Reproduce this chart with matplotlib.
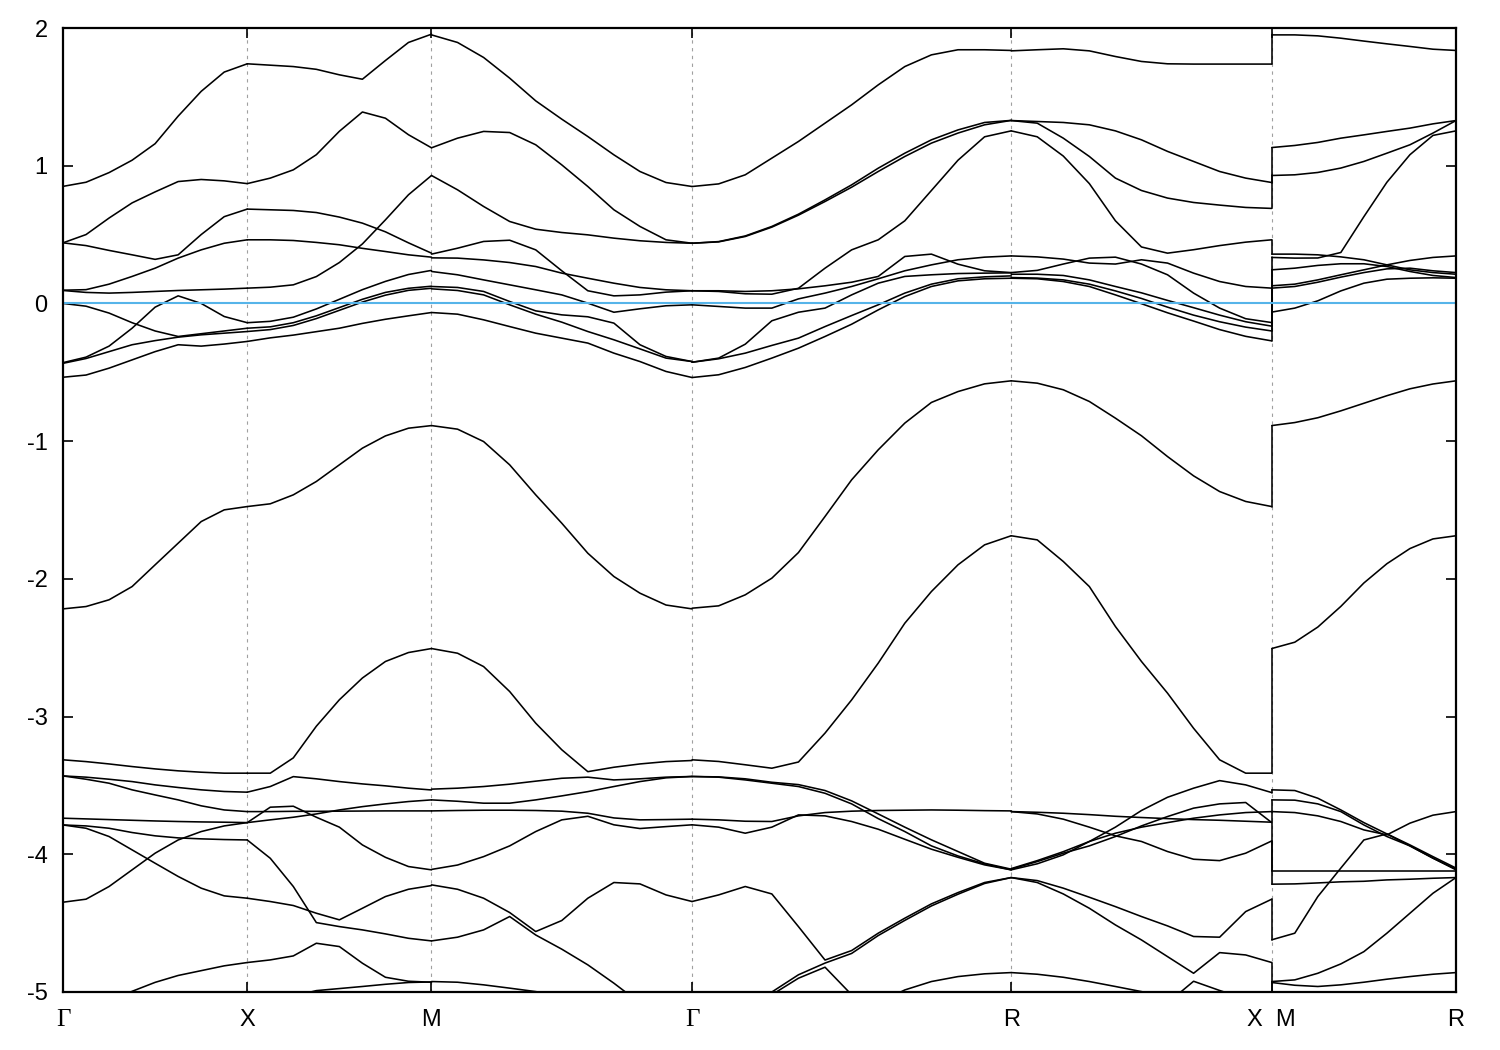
import numpy as np
import matplotlib
matplotlib.use("Agg")
import matplotlib.pyplot as plt

plt.rcParams['axes.unicode_minus'] = False

# ---------------- path / tick labels ----------------
tick_labels = ["Γ", "X", "M", "Γ", "R", "X  M", "R"]
seg_lengths = [0.5, 0.5, np.sqrt(0.5), np.sqrt(0.75), np.sqrt(0.5), 0.5]   # Γ-X, X-M, M-Γ, Γ-R, R-X, M-R (2π/a)
y_ticks = [-5, -4, -3, -2, -1, 0, 1, 2]

# ---------------- band energies (eV), sampled evenly along each segment ----------------
bands_GX = [
    [0.85, 0.88, 0.95, 1.04, 1.16, 1.36, 1.54, 1.68, 1.74],
    [0.44, 0.50, 0.62, 0.73, 0.81, 0.885, 0.90, 0.89, 0.87],
    [0.44, 0.42, 0.385, 0.353, 0.32, 0.353, 0.50, 0.63, 0.685],
    [0.096, 0.10, 0.14, 0.196, 0.256, 0.329, 0.389, 0.437, 0.462],
    [0.094, 0.08, 0.075, 0.08, 0.087, 0.094, 0.099, 0.104, 0.111],
    [0.0, -0.02, -0.07, -0.14, -0.20, -0.24, -0.22, -0.20, -0.18],
    [-0.43, -0.39, -0.31, -0.18, -0.027, 0.055, 0.0, -0.095, -0.14],
    [-0.435, -0.40, -0.35, -0.30, -0.27, -0.245, -0.228, -0.216, -0.204],
    [-0.536, -0.52, -0.47, -0.41, -0.35, -0.30, -0.31, -0.295, -0.276],
    [-2.218, -2.201, -2.152, -2.056, -1.898, -1.741, -1.584, -1.499, -1.475],
    [-3.314, -3.327, -3.344, -3.363, -3.38, -3.394, -3.404, -3.411, -3.411],
    [-3.431, -3.44, -3.455, -3.472, -3.496, -3.515, -3.532, -3.544, -3.549],
    [-3.431, -3.455, -3.484, -3.532, -3.569, -3.605, -3.648, -3.678, -3.69],
    [-3.738, -3.743, -3.748, -3.753, -3.758, -3.762, -3.765, -3.767, -3.77],
    [-3.787, -3.794, -3.811, -3.842, -3.866, -3.881, -3.888, -3.893, -3.896],
    [-3.787, -3.811, -3.871, -3.968, -4.065, -4.161, -4.246, -4.302, -4.319],
    [-4.348, -4.326, -4.234, -4.113, -3.992, -3.896, -3.835, -3.794, -3.77],
    [-5.25, -5.17, -5.08, -4.995, -4.93, -4.88, -4.845, -4.81, -4.786],
]

bands_XM = [
    [1.74, 1.73, 1.72, 1.70, 1.66, 1.628, 1.764, 1.895, 1.955],
    [0.87, 0.91, 0.97, 1.08, 1.25, 1.39, 1.345, 1.225, 1.13],
    [0.685, 0.68, 0.675, 0.66, 0.627, 0.583, 0.52, 0.44, 0.365],
    [0.462, 0.462, 0.457, 0.443, 0.426, 0.40, 0.377, 0.353, 0.336],
    [0.111, 0.118, 0.135, 0.195, 0.297, 0.432, 0.607, 0.789, 0.929],
    [-0.14, -0.13, -0.10, -0.04, 0.03, 0.10, 0.16, 0.21, 0.24],
    [-0.18, -0.17, -0.14, -0.09, -0.03, 0.03, 0.08, 0.11, 0.125],
    [-0.204, -0.19, -0.16, -0.11, -0.05, 0.01, 0.06, 0.095, 0.11],
    [-0.276, -0.25, -0.23, -0.205, -0.18, -0.145, -0.115, -0.09, -0.066],
    [-1.475, -1.455, -1.39, -1.293, -1.172, -1.051, -0.962, -0.906, -0.887],
    [-3.411, -3.411, -3.30, -3.07, -2.878, -2.72, -2.60, -2.535, -2.506],
    [-3.549, -3.508, -3.436, -3.452, -3.472, -3.489, -3.503, -3.52, -3.533],
    [-3.69, -3.69, -3.688, -3.688, -3.687, -3.686, -3.685, -3.685, -3.685],
    [-3.77, -3.75, -3.731, -3.707, -3.678, -3.654, -3.634, -3.617, -3.605],
    [-3.77, -3.658, -3.651, -3.731, -3.803, -3.932, -4.022, -4.089, -4.113],
    [-3.896, -4.029, -4.234, -4.496, -4.525, -4.549, -4.578, -4.61, -4.629],
    [-4.319, -4.343, -4.372, -4.428, -4.476, -4.392, -4.307, -4.254, -4.227],
    [-4.786, -4.767, -4.738, -4.646, -4.67, -4.791, -4.893, -4.922, -4.929],
    [-5.12, -5.07, -5.03, -4.99, -4.975, -4.96, -4.944, -4.931, -4.927],
]

bands_MG = [
    [1.95, 1.895, 1.786, 1.636, 1.471, 1.338, 1.212, 1.079, 0.958, 0.878, 0.849],
    [1.13, 1.20, 1.249, 1.241, 1.152, 1.006, 0.849, 0.68, 0.559, 0.462, 0.437],
    [0.929, 0.825, 0.704, 0.595, 0.539, 0.515, 0.498, 0.474, 0.455, 0.443, 0.437],
    [0.358, 0.401, 0.45, 0.459, 0.389, 0.237, 0.092, 0.055, 0.062, 0.082, 0.092],
    [0.331, 0.329, 0.316, 0.297, 0.268, 0.22, 0.183, 0.147, 0.116, 0.099, 0.092],
    [0.232, 0.208, 0.171, 0.135, 0.099, 0.062, 0.002, -0.064, -0.039, -0.017, -0.01],
    [0.123, 0.116, 0.087, 0.014, -0.054, -0.083, -0.097, -0.143, -0.30, -0.385, -0.422],
    [0.106, 0.094, 0.062, -0.01, -0.078, -0.136, -0.204, -0.264, -0.33, -0.397, -0.422],
    [-0.066, -0.078, -0.119, -0.168, -0.216, -0.252, -0.288, -0.361, -0.422, -0.494, -0.538],
    [-0.887, -0.913, -1.003, -1.172, -1.39, -1.596, -1.814, -1.983, -2.104, -2.19, -2.218],
    [-2.506, -2.54, -2.637, -2.818, -3.048, -3.241, -3.40, -3.368, -3.344, -3.327, -3.319],
    [-3.527, -3.52, -3.508, -3.491, -3.469, -3.448, -3.44, -3.46, -3.452, -3.44, -3.435],
    [-3.605, -3.615, -3.629, -3.629, -3.605, -3.576, -3.545, -3.508, -3.472, -3.445, -3.435],
    [-3.685, -3.682, -3.68, -3.68, -3.682, -3.687, -3.702, -3.736, -3.75, -3.748, -3.745],
    [-4.11, -4.078, -4.017, -3.939, -3.835, -3.75, -3.724, -3.786, -3.813, -3.799, -3.786],
    [-4.222, -4.254, -4.319, -4.423, -4.561, -4.481, -4.319, -4.205, -4.215, -4.295, -4.343],
    [-4.629, -4.602, -4.549, -4.452, -4.586, -4.689, -4.803, -4.936, -5.08, -5.2, -5.3],
    [-4.924, -4.929, -4.948, -4.972, -4.997, -5.03, -5.06, -5.1, -5.14, -5.18, -5.2],
]

bands_GR = [
    [0.849, 0.868, 0.934, 1.055, 1.176, 1.309, 1.442, 1.587, 1.72, 1.805, 1.842, 1.842, 1.837],
    [0.437, 0.449, 0.49, 0.559, 0.648, 0.752, 0.861, 0.982, 1.091, 1.188, 1.26, 1.314, 1.329],
    [0.437, 0.447, 0.486, 0.554, 0.641, 0.74, 0.844, 0.958, 1.067, 1.164, 1.237, 1.297, 1.329],
    [0.092, 0.087, 0.07, 0.067, 0.11, 0.256, 0.389, 0.462, 0.60, 0.82, 1.04, 1.21, 1.253],
    [0.092, 0.092, 0.087, 0.092, 0.106, 0.128, 0.154, 0.196, 0.341, 0.358, 0.285, 0.237, 0.224],
    [-0.01, -0.022, -0.034, -0.034, 0.033, 0.075, 0.123, 0.179, 0.237, 0.28, 0.317, 0.336, 0.345],
    [-0.427, -0.397, -0.296, -0.126, -0.064, -0.034, 0.062, 0.147, 0.196, 0.208, 0.217, 0.22, 0.222],
    [-0.427, -0.402, -0.361, -0.305, -0.252, -0.168, -0.088, -0.01, 0.075, 0.14, 0.179, 0.193, 0.20],
    [-0.538, -0.518, -0.465, -0.397, -0.325, -0.24, -0.151, -0.047, 0.05, 0.123, 0.164, 0.179, 0.183],
    [-2.213, -2.196, -2.116, -1.995, -1.809, -1.547, -1.281, -1.063, -0.869, -0.719, -0.64, -0.584, -0.562],
    [-3.314, -3.326, -3.35, -3.375, -3.33, -3.12, -2.879, -2.612, -2.322, -2.092, -1.898, -1.753, -1.687],
    [-3.435, -3.438, -3.452, -3.477, -3.494, -3.537, -3.612, -3.707, -3.803, -3.895, -3.98, -4.065, -4.108],
    [-3.435, -3.44, -3.46, -3.484, -3.508, -3.557, -3.634, -3.741, -3.835, -3.939, -4.012, -4.07, -4.113],
    [-3.745, -3.75, -3.76, -3.762, -3.721, -3.697, -3.687, -3.682, -3.68, -3.678, -3.68, -3.683, -3.685],
    [-3.786, -3.803, -3.847, -3.803, -3.714, -3.721, -3.762, -3.818, -3.891, -3.963, -4.022, -4.077, -4.113],
    [-4.343, -4.295, -4.234, -4.288, -4.525, -4.768, -4.699, -4.573, -4.464, -4.36, -4.278, -4.205, -4.169],
    [-5.6, -5.4, -5.2, -5.02, -4.9, -4.82, -5.02, -5.2, -5.35, -5.5, -5.6, -5.7, -5.8],
    [-5.6, -5.4, -5.2, -5.0, -4.875, -4.79, -4.72, -4.59, -4.48, -4.375, -4.29, -4.212, -4.169],
    [-5.9, -5.8, -5.7, -5.6, -5.5, -5.4, -5.25, -5.08, -4.985, -4.924, -4.888, -4.868, -4.859],
]

bands_RX = [
    [1.834, 1.842, 1.849, 1.834, 1.793, 1.757, 1.74, 1.738, 1.738, 1.738, 1.738],
    [1.328, 1.321, 1.314, 1.297, 1.253, 1.188, 1.104, 1.031, 0.958, 0.91, 0.878],
    [1.328, 1.309, 1.2, 1.067, 0.91, 0.82, 0.765, 0.733, 0.714, 0.697, 0.69],
    [1.253, 1.21, 1.07, 0.87, 0.60, 0.41, 0.365, 0.39, 0.42, 0.445, 0.462],
    [0.345, 0.338, 0.322, 0.293, 0.286, 0.317, 0.293, 0.22, 0.159, 0.123, 0.111],
    [0.224, 0.24, 0.286, 0.329, 0.336, 0.286, 0.208, 0.075, -0.034, -0.111, -0.139],
    [0.212, 0.212, 0.203, 0.171, 0.123, 0.077, 0.022, -0.031, -0.085, -0.133, -0.165],
    [0.188, 0.184, 0.171, 0.14, 0.091, 0.036, -0.027, -0.085, -0.133, -0.172, -0.2],
    [0.183, 0.179, 0.159, 0.123, 0.062, -0.002, -0.068, -0.128, -0.19, -0.239, -0.272],
    [-0.562, -0.579, -0.627, -0.712, -0.833, -0.961, -1.112, -1.252, -1.366, -1.438, -1.475],
    [-1.687, -1.717, -1.874, -2.056, -2.346, -2.6, -2.83, -3.085, -3.314, -3.411, -3.411],
    [-4.113, -4.069, -4.004, -3.907, -3.803, -3.682, -3.586, -3.52, -3.465, -3.496, -3.552],
    [-4.108, -4.053, -3.992, -3.939, -3.871, -3.794, -3.726, -3.665, -3.634, -3.624, -3.77],
    [-4.104, -4.046, -3.981, -3.907, -3.847, -3.803, -3.77, -3.738, -3.714, -3.697, -3.69],
    [-3.69, -3.695, -3.702, -3.712, -3.724, -3.733, -3.741, -3.748, -3.753, -3.76, -3.767],
    [-3.69, -3.707, -3.745, -3.803, -3.866, -3.907, -3.98, -4.036, -4.046, -3.992, -3.903],
    [-4.169, -4.191, -4.246, -4.312, -4.38, -4.452, -4.52, -4.597, -4.602, -4.416, -4.326],
    [-4.169, -4.205, -4.288, -4.392, -4.513, -4.622, -4.743, -4.864, -4.714, -4.731, -4.786],
    [-5.6, -5.5, -5.45, -5.4, -5.3, -5.2, -5.08, -4.922, -4.989, -5.05, -5.1],
    [-4.859, -4.871, -4.893, -4.924, -4.96, -4.997, -5.04, -5.08, -5.1, -5.12, -5.14],
]

bands_MR = [
    [1.95, 1.95, 1.943, 1.926, 1.905, 1.885, 1.866, 1.846, 1.837],
    [1.132, 1.147, 1.169, 1.2, 1.224, 1.249, 1.273, 1.304, 1.328],
    [0.929, 0.934, 0.951, 0.983, 1.031, 1.091, 1.152, 1.237, 1.328],
    [0.334, 0.329, 0.33, 0.37, 0.63, 0.88, 1.08, 1.22, 1.253],
    [0.358, 0.358, 0.353, 0.338, 0.317, 0.28, 0.244, 0.224, 0.212],
    [0.244, 0.256, 0.276, 0.288, 0.288, 0.268, 0.232, 0.203, 0.188],
    [0.128, 0.14, 0.171, 0.208, 0.244, 0.28, 0.312, 0.334, 0.345],
    [0.111, 0.123, 0.154, 0.191, 0.224, 0.251, 0.256, 0.237, 0.224],
    [-0.063, -0.034, 0.019, 0.091, 0.147, 0.176, 0.183, 0.186, 0.183],
    [-0.887, -0.865, -0.83, -0.78, -0.725, -0.67, -0.62, -0.585, -0.562],
    [-2.506, -2.46, -2.35, -2.2, -2.03, -1.89, -1.78, -1.71, -1.687],
    [-3.532, -3.537, -3.593, -3.678, -3.77, -3.852, -3.932, -4.017, -4.1],
    [-3.605, -3.607, -3.634, -3.69, -3.787, -3.871, -3.939, -4.028, -4.113],
    [-3.69, -3.697, -3.721, -3.762, -3.823, -3.859, -3.774, -3.716, -3.69],
    [-4.621, -4.573, -4.307, -4.1, -3.896, -3.852, -3.939, -4.028, -4.108],
    [-4.118, -4.118, -4.118, -4.118, -4.118, -4.118, -4.118, -4.118, -4.118],
    [-4.217, -4.215, -4.208, -4.2, -4.196, -4.186, -4.181, -4.174, -4.169],
    [-4.924, -4.912, -4.864, -4.796, -4.707, -4.573, -4.428, -4.283, -4.169],
    [-4.931, -4.951, -4.96, -4.948, -4.929, -4.907, -4.888, -4.871, -4.859],
]

fermi_level = 0.0

# ---------------- drawing ----------------
fig = plt.figure(figsize=(15, 10.5), dpi=100)
ax = fig.add_axes([63 / 1500, 58 / 1050, (1456 - 63) / 1500, (992 - 28) / 1050])

k_nodes = np.concatenate([[0.0], np.cumsum(seg_lengths)])
segments = [bands_GX, bands_XM, bands_MG, bands_GR, bands_RX, bands_MR]

line_kw = dict(color="black", lw=1.15, solid_joinstyle="round", solid_capstyle="round", zorder=3)

# vertical dashed lines at interior high-symmetry points
for kx in k_nodes[1:-1]:
    ax.axvline(kx, color="#a0a0a0", lw=0.8, ls=(0, (3, 4)), zorder=1)

for i, seg in enumerate(segments):
    for band in seg:
        k = np.linspace(k_nodes[i], k_nodes[i + 1], len(band))
        ax.plot(k, band, **line_kw)

# discontinuity X|M: each band joins its counterpart of the same rank
x_end = sorted((b[-1] for b in bands_RX), reverse=True)
m_start = sorted((b[0] for b in bands_MR), reverse=True)
for e1, e2 in zip(x_end, m_start):
    ax.plot([k_nodes[5], k_nodes[5]], [e1, e2], **line_kw)

ax.axhline(fermi_level, color="#56b4e9", lw=1.5, zorder=5)

ax.set_xlim(k_nodes[0], k_nodes[-1])
ax.set_ylim(-5, 2)

ax.set_xticks(k_nodes)
ax.set_xticklabels(tick_labels)
ax.set_yticks(y_ticks)
ax.set_yticklabels([str(v) for v in y_ticks])

ax.tick_params(axis="both", direction="in", length=7.5, width=1.2,
               top=True, right=True, labelsize=17, colors="black")
ax.tick_params(axis="x", pad=12)
ax.tick_params(axis="y", pad=11)

for lab in ax.get_xticklabels() + ax.get_yticklabels():
    if lab.get_text() == "Γ":
        lab.set_family(["Liberation Serif", "DejaVu Serif"])
        lab.set_fontsize(18)
    else:
        lab.set_family(["Liberation Sans", "DejaVu Sans"])

for sp in ax.spines.values():
    sp.set_linewidth(1.6)
    sp.set_color("black")
    sp.set_zorder(6)

fig.savefig("out.png", dpi=100, facecolor="white")
